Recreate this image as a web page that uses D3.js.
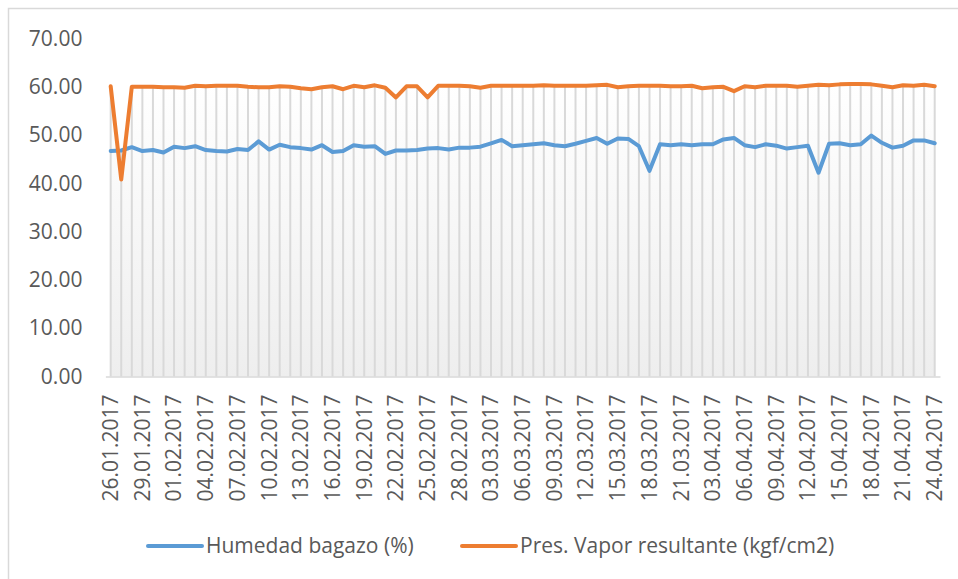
<!DOCTYPE html>
<html>
<head>
<meta charset="utf-8">
<script src="https://cdn.jsdelivr.net/npm/d3@7"></script>
<style>
  body { margin: 0; background: #fff; }
  svg text { font-family: "Open Sans", sans-serif; fill: #595959; }
</style>
</head>
<body>
<div id="chart"></div>
<script>
// categories (dates)
var fechas = [
  "26.01.2017", "27.01.2017", "28.01.2017", "29.01.2017", "30.01.2017", "31.01.2017",
  "01.02.2017", "02.02.2017", "03.02.2017", "04.02.2017", "05.02.2017", "06.02.2017", "07.02.2017",
  "08.02.2017", "09.02.2017", "10.02.2017", "11.02.2017", "12.02.2017", "13.02.2017", "14.02.2017",
  "15.02.2017", "16.02.2017", "17.02.2017", "18.02.2017", "19.02.2017", "20.02.2017", "21.02.2017",
  "22.02.2017", "23.02.2017", "24.02.2017", "25.02.2017", "26.02.2017", "27.02.2017", "28.02.2017",
  "01.03.2017", "02.03.2017", "03.03.2017", "04.03.2017", "05.03.2017", "06.03.2017", "07.03.2017",
  "08.03.2017", "09.03.2017", "10.03.2017", "11.03.2017", "12.03.2017", "13.03.2017", "14.03.2017",
  "15.03.2017", "16.03.2017", "17.03.2017", "18.03.2017", "19.03.2017", "20.03.2017", "21.03.2017",
  "22.03.2017", "23.03.2017",
  "03.04.2017", "04.04.2017", "05.04.2017", "06.04.2017", "07.04.2017", "08.04.2017", "09.04.2017",
  "10.04.2017", "11.04.2017", "12.04.2017", "13.04.2017", "14.04.2017", "15.04.2017", "16.04.2017",
  "17.04.2017", "18.04.2017", "19.04.2017", "20.04.2017", "21.04.2017", "22.04.2017", "23.04.2017",
  "24.04.2017"
];

// Humedad bagazo (%)
var humedad = [
  46.7, 46.8, 47.5, 46.7, 46.9, 46.4, 47.6, 47.3, 47.7, 46.9,
  46.7, 46.6, 47.1, 46.9, 48.7, 47.0, 48.0, 47.5, 47.3, 47.0,
  47.9, 46.5, 46.7, 47.9, 47.6, 47.7, 46.1, 46.8, 46.8, 46.9,
  47.2, 47.3, 47.0, 47.4, 47.4, 47.6, 48.3, 49.0, 47.7, 47.9,
  48.1, 48.3, 47.9, 47.7, 48.2, 48.8, 49.4, 48.2, 49.3, 49.2,
  47.7, 42.6, 48.1, 47.9, 48.1, 47.9, 48.1, 48.1, 49.1, 49.4,
  47.9, 47.5, 48.1, 47.8, 47.2, 47.5, 47.8, 42.2, 48.2, 48.3,
  47.9, 48.1, 49.9, 48.4, 47.4, 47.8, 48.9, 48.9, 48.3
];

// Pres. Vapor resultante (kgf/cm2)
var presion = [
  60.1, 40.8, 60.0, 60.0, 60.0, 59.9, 59.9, 59.8, 60.2, 60.1,
  60.2, 60.2, 60.2, 60.0, 59.9, 59.9, 60.1, 60.0, 59.7, 59.5,
  59.9, 60.1, 59.5, 60.2, 59.9, 60.3, 59.8, 57.8, 60.1, 60.1,
  57.8, 60.2, 60.2, 60.2, 60.1, 59.8, 60.2, 60.2, 60.2, 60.2,
  60.2, 60.3, 60.2, 60.2, 60.2, 60.2, 60.3, 60.4, 59.9, 60.1,
  60.2, 60.2, 60.2, 60.1, 60.1, 60.2, 59.7, 59.9, 60.0, 59.1,
  60.1, 59.9, 60.2, 60.2, 60.2, 60.0, 60.2, 60.4, 60.3, 60.5,
  60.6, 60.6, 60.5, 60.2, 59.9, 60.3, 60.2, 60.4, 60.1
];

var yTicks = [0, 10, 20, 30, 40, 50, 60, 70];

var series = [
  {name: "Humedad bagazo (%)", values: humedad, color: "#5B9BD5"},
  {name: "Pres. Vapor resultante (kgf/cm2)", values: presion, color: "#ED7D31"}
];

var W = 958, H = 579;
var plot = {left: 105.4, right: 940, top: 38.5, bottom: 376.5};
var fontSize = 21;

var svg = d3.select("#chart").append("svg")
    .attr("width", W)
    .attr("height", H);

// chart border
svg.append("rect")
    .attr("x", 8.5).attr("y", 8.5)
    .attr("width", W + 20).attr("height", H + 20)
    .attr("fill", "none")
    .attr("stroke", "#d9d9d9")
    .attr("stroke-width", 1.5);

var x = d3.scaleBand().domain(fechas).range([plot.left, plot.right]).paddingInner(0).paddingOuter(0);
var y = d3.scaleLinear().domain([0, 70]).range([plot.bottom, plot.top]);
var cx = function(d) { return x(d) + x.bandwidth() / 2; };

var rows = fechas.map(function(f, i) {
  return {fecha: f, hum: humedad[i], pres: presion[i]};
});

// gradient under the top series
var defs = svg.append("defs");
var grad = defs.append("linearGradient")
    .attr("id", "fondo")
    .attr("x1", 0).attr("y1", 0).attr("x2", 0).attr("y2", 1);
grad.append("stop").attr("offset", "0%").attr("stop-color", "#ffffff");
grad.append("stop").attr("offset", "100%").attr("stop-color", "#eeeeee");

svg.append("path")
    .datum(rows)
    .attr("fill", "url(#fondo)")
    .attr("d", d3.area()
        .x(function(d) { return cx(d.fecha); })
        .y0(y(0))
        .y1(function(d) { return y(Math.max(d.hum, d.pres)); }));

// drop lines
svg.selectAll(".drop")
    .data(rows)
    .enter().append("line")
    .attr("class", "drop")
    .attr("x1", function(d) { return cx(d.fecha); })
    .attr("x2", function(d) { return cx(d.fecha); })
    .attr("y1", function(d) { return y(Math.max(d.hum, d.pres)); })
    .attr("y2", y(0))
    .attr("stroke", "#d9d9d9")
    .attr("stroke-width", 2);

// x axis
var xAxis = d3.axisBottom(x)
    .tickValues(fechas.filter(function(d, i) { return i % 3 === 0; }))
    .tickSize(0);

var gx = svg.append("g")
    .attr("class", "x axis")
    .attr("transform", "translate(0," + y(0) + ")")
    .call(xAxis);
gx.select(".domain").attr("stroke", "#d9d9d9").attr("stroke-width", 1.5);
gx.selectAll("text")
    .attr("font-size", fontSize)
    .attr("transform", "rotate(-90)")
    .attr("text-anchor", "end")
    .attr("x", -18)
    .attr("y", 0)
    .attr("dy", "0.35em")
    .style("font-family", "'Open Sans', sans-serif")
    .attr("fill", "#595959");

// y axis
var yAxis = d3.axisLeft(y).tickValues(yTicks).tickSize(0).tickFormat(d3.format(".2f"));
var gy = svg.append("g")
    .attr("class", "y axis")
    .attr("transform", "translate(" + plot.left + ",0)")
    .call(yAxis);
gy.select(".domain").remove();
gy.selectAll("text")
    .attr("font-size", fontSize)
    .attr("x", -23)
    .style("font-family", "'Open Sans', sans-serif")
    .attr("fill", "#595959");

// lines
series.forEach(function(s) {
  svg.append("path")
      .datum(s.values)
      .attr("fill", "none")
      .attr("stroke", s.color)
      .attr("stroke-width", 4)
      .attr("stroke-linejoin", "round")
      .attr("stroke-linecap", "round")
      .attr("d", d3.line()
          .x(function(d, i) { return cx(fechas[i]); })
          .y(function(d) { return y(d); }));
});

// legend
var legendPos = [148, 462];
var legend = svg.selectAll(".legend")
    .data(series)
    .enter().append("g")
    .attr("class", "legend")
    .attr("transform", function(d, i) { return "translate(" + legendPos[i] + ",546)"; });
legend.append("line")
    .attr("x1", 0).attr("x2", 54)
    .attr("stroke", function(d) { return d.color; })
    .attr("stroke-width", 4)
    .attr("stroke-linecap", "round");
legend.append("text")
    .attr("x", 58)
    .attr("dy", "0.35em")
    .attr("font-size", fontSize)
    .text(function(d) { return d.name; });
</script>
</body>
</html>
